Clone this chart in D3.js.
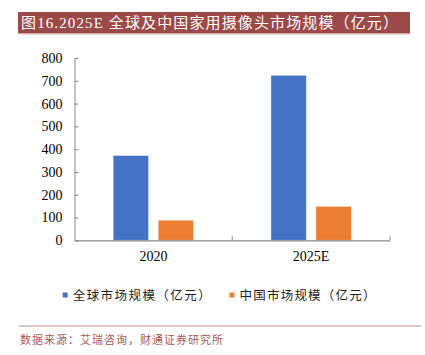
<!DOCTYPE html>
<html><head><meta charset="utf-8">
<script src="https://cdn.jsdelivr.net/npm/d3@7"></script>
<style>html,body{margin:0;padding:0;background:#fff;}svg{display:block;}</style>
</head><body>
<script>
const categories = ["2020", "2025E"];
const seriesNames = ["全球市场规模（亿元）", "中国市场规模（亿元）"];
const globalValues = [372, 724];
const chinaValues = [88, 149];
const yTicks = [0, 100, 200, 300, 400, 500, 600, 700, 800];
const colors = ["#4472C4", "#ED7D31"];

const W = 425, H = 355;
const svg = d3.select("body").append("svg").attr("width", W).attr("height", H);
const serif = "'Liberation Serif','Times New Roman','Noto Sans CJK SC',serif";
const cjk = "'Noto Sans CJK SC',sans-serif";

// title bar
svg.append("rect").attr("x", 18).attr("y", 12).attr("width", 392).attr("height", 21.5).attr("fill", "#9C4A47");
svg.append("line").attr("x1", 18).attr("x2", 410).attr("y1", 34).attr("y2", 34).attr("stroke", "#D8B0AE").attr("stroke-width", 1);
svg.append("text").attr("x", 21).attr("y", 28).attr("fill", "#fff")
  .attr("font-family", serif).attr("font-size", 15)
  .attr("textLength", 377).attr("lengthAdjust", "spacing")
  .text("图16.2025E 全球及中国家用摄像头市场规模（亿元）");

const plotLeft = 74.5, plotRight = 390, plotTop = 58, plotBottom = 240.3;
const y = d3.scaleLinear().domain([0, 800]).range([plotBottom, plotTop]);
const x0 = d3.scaleBand().domain(categories).range([plotLeft, plotRight]).padding(0);
const x1 = d3.scaleBand().domain([0, 1]).range([x0.bandwidth() / 2 - 40.2, x0.bandwidth() / 2 + 40.2]).paddingInner(0.213).paddingOuter(0);

const data = categories.map((c, i) => ({ cat: c, vals: [globalValues[i], chinaValues[i]] }));
const g = svg.append("g");
g.selectAll("g.grp").data(data).join("g").attr("class", "grp")
  .attr("transform", d => `translate(${x0(d.cat)},0)`)
  .selectAll("rect").data(d => d.vals.map((v, k) => ({ v, k }))).join("rect")
  .attr("x", d => x1(d.k)).attr("width", x1.bandwidth())
  .attr("y", d => y(d.v)).attr("height", d => plotBottom - y(d.v))
  .attr("fill", d => colors[d.k])
  .attr("stroke", "rgba(255,255,255,0.5)").attr("stroke-width", 0.8);

// y axis
const yAxis = d3.axisLeft(y).tickValues(yTicks).tickSizeInner(-4).tickSizeOuter(0).tickPadding(12);
const ya = svg.append("g").attr("transform", `translate(${plotLeft},0)`).call(yAxis);
ya.select(".domain").attr("stroke", "#888");
ya.selectAll(".tick line").attr("stroke", "#888");
ya.selectAll(".tick text").attr("font-family", serif).attr("font-size", 14).attr("fill", "#000");

// x axis
const xAxis = d3.axisBottom(x0).tickSize(0).tickPadding(11);
const xa = svg.append("g").attr("transform", `translate(0,${plotBottom})`).call(xAxis);
xa.select(".domain").attr("stroke", "#888").attr("stroke-width", 1.2);
xa.selectAll(".tick text").attr("font-family", serif).attr("font-size", 14).attr("fill", "#000");
const bounds = categories.map(c => x0(c) + x0.bandwidth());
svg.append("g").selectAll("line").data(bounds).join("line")
  .attr("x1", d => d).attr("x2", d => d).attr("y1", plotBottom - 4).attr("y2", plotBottom)
  .attr("stroke", "#888");

// legend
const legendX = [62.7, 229.5];
const legendW = [138, 136];
const lg = svg.append("g").selectAll("g").data(seriesNames).join("g")
  .attr("transform", (d, i) => `translate(${legendX[i]},295)`);
lg.append("rect").attr("x", 0).attr("y", -2.5).attr("width", 5).attr("height", 5).attr("fill", (d, i) => colors[i]);
lg.append("text").attr("x", 10).attr("y", 4.5).attr("font-family", cjk).attr("font-size", 12.5).attr("fill", "#222")
  .attr("textLength", (d, i) => legendW[i]).attr("lengthAdjust", "spacing").text(d => d);

// source
svg.append("line").attr("x1", 19).attr("x2", 421).attr("y1", 326).attr("y2", 326).attr("stroke", "#C48A88").attr("stroke-width", 1);
svg.append("text").attr("x", 20).attr("y", 344).attr("font-family", cjk).attr("font-size", 11)
  .attr("fill", "#A85856").attr("textLength", 203).attr("lengthAdjust", "spacing")
  .text("数据来源：艾瑞咨询，财通证券研究所");
</script>
</body></html>
